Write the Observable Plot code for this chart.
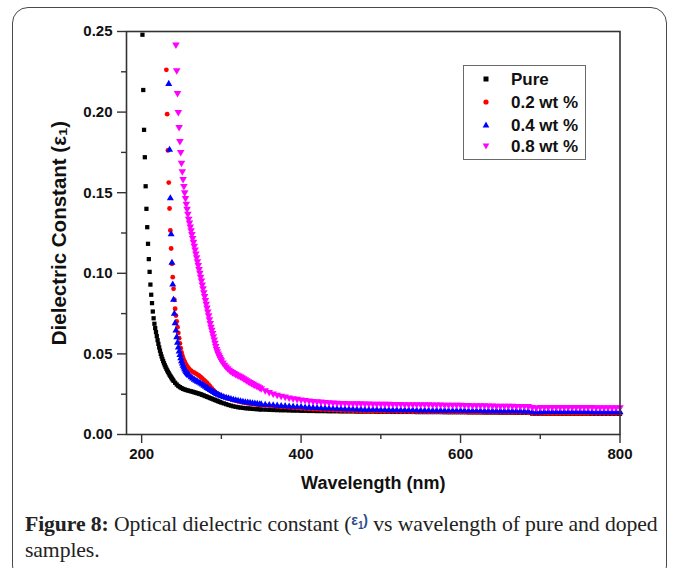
<!DOCTYPE html>
<html><head><meta charset="utf-8">
<script src="https://cdn.jsdelivr.net/npm/d3@7"></script>
<script src="https://cdn.jsdelivr.net/npm/@observablehq/plot@0.6"></script>
<style>
html,body{margin:0;padding:0;background:#fff;}
body{width:673px;height:568px;overflow:hidden;position:relative;font-family:"Liberation Sans",Arial,sans-serif;}
#card{position:absolute;left:12px;top:7px;width:655px;height:575px;border:1.5px solid #4a4a4a;border-radius:16px;box-sizing:border-box;}
#chart{position:absolute;left:0;top:0;}
#legend{position:absolute;left:463px;top:65px;width:123px;height:95px;border:1px solid #6a6a6a;box-sizing:border-box;background:#fff;}
#legend .row{position:absolute;left:0;height:20px;width:120px;}
#legend svg{position:absolute;left:16px;top:3px;}
#legend span{position:absolute;left:47px;top:0;font-weight:bold;font-size:17px;line-height:20px;color:#111;white-space:nowrap;}
#caption{position:absolute;left:25px;top:508px;font-family:"Liberation Serif","Times New Roman",serif;font-size:21.7px;line-height:25px;color:#222;white-space:nowrap;letter-spacing:-0.1px;}
#caption .eps{font-family:"Liberation Sans",sans-serif;font-size:14px;font-weight:bold;color:#2b4c8c;vertical-align:6px;}
</style></head>
<body>
<div id="card"></div>
<div id="chart"></div>
<div id="legend"></div>
<div id="caption"><b>Figure 8:</b> Optical dielectric constant (<span class="eps">ε<sub style="font-size:10px">1</sub>)</span> vs wavelength of pure and doped<br>samples.</div>
<script>
// ---------------- data ----------------
const seriesNames = ["Pure", "0.2 wt %", "0.4 wt %", "0.8 wt %"];
const seriesColors = ["#000000", "#ff0000", "#0000ff", "#ff00ff"];
const xTicks = [200, 400, 600, 800];
const xMinorTicks = [300, 500, 700];
const yTicks = [0, 0.05, 0.10, 0.15, 0.20, 0.25];
const yMinorTicks = [0.025, 0.075, 0.125, 0.175, 0.225];

// shared wavelength grid for the flat tails (350..800 nm, every 5 nm)
const tailWavelength = d3.range(350, 801, 5);

// [wavelength nm, epsilon1]
const pureHead = [[201,.248],[202,.2137],[203,.189],[204,.172],[205,.154],[206,.140],[207,.1286],[208,.1183],[209,.1088],[210,.1009],
[211,.093],[212,.0867],[213,.0815],[214,.0763],[215,.0721],[216,.0687],[217,.066],[218,.0635],[219,.061],[220,.0585],
[221,.0562],[222,.054],[223,.052],[224,.050],[225,.0484],[226,.0469],[227,.0455],[228,.0442],[229,.043],[230,.0419],
[231,.0408],[232,.0398],[233,.0389],[234,.038],[235,.0371],[236,.0363],[237,.0355],[238,.0347],[239,.034],[240,.0333],
[242,.0321],[244,.031],[246,.0301],[248,.0294],[250,.0288],[252,.0283],[254,.0279],[256,.0276],[258,.0273],[260,.027],
[262,.0268],[264,.0265],[266,.0262],[268,.0259],[270,.0256],[272,.0253],[274,.025],[276,.0246],[278,.0242],[280,.0238],
[282,.0234],[284,.023],[286,.0226],[288,.0222],[290,.0218],[292,.0214],[294,.021],[296,.0206],[298,.0202],
[300,.0198],[303,.0193],[306,.0188],[309,.0183],[312,.0179],[315,.0175],[318,.0172],[321,.0169],[324,.0167],[327,.0165],
[330,.0163],[333,.0162],[336,.0161],[339,.0159],[342,.0158],[345,.0157],[348,.0156]];
const pureTail = [
.0155,.0154,.0153,.0152,.0151,.015,.015,.0149,.0148,.0148,
.0147,.0147,.0146,.0146,.0145,.0145,.0145,.0144,.0144,.0144,
.0143,.0143,.0143,.0143,.0142,.0142,.0142,.0142,.0142,.0141,
.0141,.0141,.0141,.014,.014,.014,.014,.014,.014,.0139,
.0139,.0139,.0139,.0139,.0139,.0139,.0138,.0138,.0138,.0138,
.0138,.0138,.0137,.0137,.0137,.0137,.0136,.0136,.0136,.0136,
.0135,.0135,.0135,.0135,.0134,.0134,.0134,.0134,.0129,.0128,
.0129,.0129,.0129,.0129,.0129,.0129,.0129,.0129,.0129,.0129,
.0129,.0129,.0129,.0128,.0128,.0128,.0128,.0128,.0128,.0128,
.0128];

const wt02Head = [[231,.2262],[232,.1987],[233,.1762],[234,.1563],[235,.1402],[236,.1266],[237,.1154],[238,.1059],[239,.0976],[240,.0904],
[241,.0836],[242,.078],[243,.0738],[244,.0701],[245,.0666],[246,.063],[247,.0597],[248,.0565],[249,.0535],[250,.051],
[251,.049],[252,.0474],[253,.0461],[254,.045],[255,.044],[256,.0431],[257,.0423],[258,.0416],[259,.041],[260,.0404],
[262,.0396],[264,.0389],[266,.0383],[268,.0378],[270,.0372],[272,.0365],[274,.0357],[276,.0348],[278,.0339],[280,.033],
[282,.032],[284,.031],[286,.0298],[288,.0286],[290,.0275],[292,.0265],[294,.0257],[296,.025],[298,.0244],
[300,.0239],[303,.0233],[306,.0228],[309,.0223],[312,.0218],[315,.0214],[318,.021],[321,.0206],[324,.0202],[327,.0199],
[330,.0196],[333,.0193],[336,.0191],[339,.0189],[342,.0187],[345,.0185],[348,.0183]];
const wt02Tail = [
.0182,.018,.0178,.0176,.0174,.0172,.017,.0168,.0166,.0164,
.0162,.016,.0159,.0157,.0156,.0154,.0153,.0152,.0151,.015,
.0149,.0148,.0148,.0147,.0146,.0146,.0145,.0145,.0144,.0144,
.0144,.0143,.0143,.0143,.0142,.0142,.0142,.0142,.0141,.0141,
.0141,.0141,.014,.014,.014,.014,.014,.0139,.0139,.0139,
.0139,.0139,.0138,.0138,.0138,.0138,.0138,.0137,.0137,.0137,
.0137,.0137,.0136,.0136,.0136,.0136,.0136,.0135,.013,.0129,
.013,.0131,.0131,.0131,.0131,.0131,.0131,.0131,.0131,.0131,
.0131,.0131,.0131,.013,.013,.013,.013,.013,.013,.013,
.013];

const wt04Head = [[234,.2175],[235,.1766],[236,.1466],[237,.1242],[238,.1065],[239,.093],[240,.0836],[241,.0749],[242,.069],[243,.0645],
[244,.0604],[245,.057],[246,.054],[247,.0515],[248,.0493],[249,.0473],[250,.0455],[251,.044],[252,.0427],[253,.0415],
[254,.0405],[255,.0396],[256,.0388],[257,.0381],[258,.0375],[259,.0369],[260,.0364],
[262,.0355],[264,.0347],[266,.034],[268,.0334],[270,.0328],[272,.0322],[274,.0316],[276,.031],[278,.0303],[280,.0296],
[282,.0289],[284,.0282],[286,.0276],[288,.027],[290,.0264],[292,.0258],[294,.0252],[296,.0247],[298,.0242],
[300,.0238],[303,.0233],[306,.0228],[309,.0224],[312,.022],[315,.0216],[318,.0212],[321,.0209],[324,.0206],[327,.0203],
[330,.02],[333,.0198],[336,.0196],[339,.0194],[342,.0192],[345,.019],[348,.0188]];
const wt04Tail = [
.0187,.0185,.0183,.0181,.0179,.0177,.0176,.0174,.0173,.0171,
.017,.0168,.0167,.0166,.0164,.0163,.0162,.0161,.016,.0159,
.0158,.0157,.0157,.0156,.0155,.0155,.0154,.0154,.0153,.0153,
.0152,.0152,.0151,.0151,.0151,.015,.015,.015,.015,.0149,
.0149,.0149,.0149,.0148,.0148,.0148,.0148,.0147,.0147,.0147,
.0147,.0147,.0146,.0146,.0146,.0146,.0145,.0145,.0145,.0145,
.0145,.0144,.0144,.0144,.0144,.0144,.0143,.0143,.0138,.0137,
.0138,.0139,.0139,.0139,.0139,.0139,.0139,.0139,.0139,.0139,
.0139,.0139,.0139,.0138,.0138,.0138,.0138,.0138,.0138,.0138,
.0138];

const wt08Head = [[243,.2418],[244,.2258],[245,.2117],[246,.200],[247,.1906],[248,.182],[249,.1751],[250,.1685],[251,.1632],[252,.1584],
[253,.154],[254,.1501],[255,.1466],[256,.1431],[257,.140],[258,.1369],[259,.1338],[260,.1314],[261,.129],[262,.1266],
[263,.1242],[264,.1218],[265,.1194],[266,.117],[267,.1146],[268,.1122],[269,.1098],[270,.1074],[271,.105],[272,.1026],
[273,.1002],[274,.0978],[275,.0954],[276,.093],[277,.0906],[278,.0882],[279,.0858],[280,.0834],[281,.081],[282,.0786],
[283,.0762],[284,.0738],[285,.0714],[286,.069],[287,.0668],[288,.0648],[289,.0628],[290,.0609],[291,.0589],[292,.0568],
[293,.0548],[294,.053],[295,.0515],[296,.0502],[297,.049],[298,.0479],[299,.0469],[300,.046],
[302,.0445],[304,.0432],[306,.042],[308,.041],[310,.0401],[312,.0393],[314,.0386],[316,.038],[318,.0375],[320,.037],
[322,.0365],[324,.036],[326,.0354],[328,.0348],[330,.0342],[332,.0336],[334,.033],[336,.0324],[338,.0318],[340,.0313],
[342,.0308],[344,.0303],[346,.0298],[348,.0292]];
const wt08Tail = [
.0286,.0273,.0262,.0253,.0246,.024,.0234,.0229,.0224,.022,
.0216,.0213,.021,.0207,.0205,.0203,.0201,.0199,.0198,.0196,
.0195,.0194,.0193,.0193,.0192,.0192,.0191,.0191,.019,.019,
.0189,.0189,.0189,.0188,.0188,.0188,.0187,.0187,.0187,.0187,
.0186,.0186,.0186,.0185,.0185,.0185,.0184,.0184,.0184,.0183,
.0183,.0182,.0182,.0181,.0181,.018,.018,.0179,.0179,.0178,
.0178,.0177,.0177,.0177,.0176,.0176,.0176,.0175,.0169,.0167,
.0169,.017,.017,.017,.017,.017,.017,.0169,.0169,.0169,
.0169,.0169,.0169,.0169,.0168,.0168,.0168,.0168,.0168,.0168,
.0168];

// ---------------- build ----------------
function build(name, head, tail) {
  return head.map(([w, e]) => ({series: name, w, e}))
    .concat(tail.map((e, i) => ({series: name, w: tailWavelength[i], e})));
}
const dPure = build(seriesNames[0], pureHead, pureTail);
const d02 = build(seriesNames[1], wt02Head, wt02Tail);
const d04 = build(seriesNames[2], wt04Head, wt04Tail);
const d08 = build(seriesNames[3], wt08Head, wt08Tail);

const axisStroke = "#333";
const chart = Plot.plot({
  width: 673,
  height: 500,
  marginLeft: 126,
  marginRight: 53.5,
  marginTop: 31,
  marginBottom: 66,
  style: {fontFamily: "Liberation Sans, Arial, sans-serif", fontSize: "15px", fontWeight: "bold", color: "#111", background: "transparent", overflow: "visible"},
  x: {domain: [181, 800]},
  y: {domain: [0, 0.25]},
  marks: [
    Plot.dot(dPure, {x: "w", y: "e", symbol: "square", r: 2.4, fill: seriesColors[0]}),
    Plot.dot(d02, {x: "w", y: "e", symbol: "circle", r: 2.4, fill: seriesColors[1]}),
    Plot.dot(d04, {x: "w", y: "e", symbol: "triangle", r: 2.6, fill: seriesColors[2]}),
    Plot.dot(d08, {x: "w", y: "e", symbol: "triangle", r: 2.8, rotate: 180, fill: seriesColors[3]}),
    Plot.frame({stroke: axisStroke, strokeWidth: 1.6}),
    Plot.axisX({ticks: xTicks, tickSize: 9, tickPadding: 5, stroke: axisStroke, strokeWidth: 1.4, label: null, tickFormat: d => d}),
    Plot.axisX({ticks: xMinorTicks, tickSize: 5, stroke: axisStroke, strokeWidth: 1.4, label: null, tickFormat: () => ""}),
    Plot.axisY({ticks: yTicks, tickSize: 9, tickPadding: 5, stroke: axisStroke, strokeWidth: 1.4, label: null, tickFormat: d3.format(".2f")}),
    Plot.axisY({ticks: yMinorTicks, tickSize: 5, stroke: axisStroke, strokeWidth: 1.4, label: null, tickFormat: () => ""}),
    Plot.text(["Wavelength (nm)"], {frameAnchor: "bottom", dy: 54, fontSize: 18, fontWeight: "bold", fill: "#111"}),
    Plot.text(["Dielectric Constant (ε₁)"], {frameAnchor: "left", textAnchor: "middle", rotate: -90, dx: -67, dy: 0, fontSize: 20.5, fontWeight: "bold", fill: "#111"})
  ]
});
document.getElementById("chart").appendChild(chart);

// ---------------- legend ----------------
const legend = document.getElementById("legend");
const rowTops = [4, 27, 50, 71];
const legendSymbols = [
  '<rect x="3.5" y="3.5" width="5" height="5" fill="#000"/>',
  '<circle cx="6" cy="6" r="2.6" fill="#ff0000"/>',
  '<path d="M6,2.6 L9.3,8.4 L2.7,8.4 Z" fill="#0000ff"/>',
  '<path d="M6,9.4 L9.3,3.6 L2.7,3.6 Z" fill="#ff00ff"/>'
];
seriesNames.forEach((name, i) => {
  const row = document.createElement("div");
  row.className = "row";
  row.style.top = rowTops[i] + "px";
  row.innerHTML = '<svg width="12" height="12" viewBox="0 0 12 12">' + legendSymbols[i] + '</svg><span>' + name + '</span>';
  legend.appendChild(row);
});
</script>
</body></html>
